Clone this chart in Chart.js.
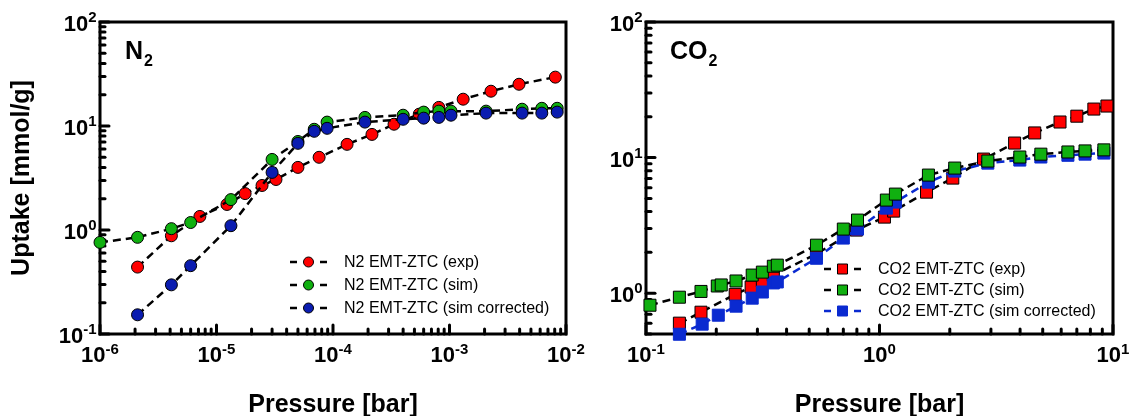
<!DOCTYPE html>
<html lang="en">
<head>
<meta charset="UTF-8">
<title>N2 / CO2 uptake EMT-ZTC</title>
<script src="https://cdn.jsdelivr.net/npm/chart.js"></script>
<style>
    body {
        margin: 0;
        background: #fff;
        font-family: "Liberation Sans", Arial, sans-serif;
    }
    .panel {
        position: absolute;
        top: 0;
        height: 416px;
    }
</style>
</head>
<body>
<div class="panel" style="left:0;width:600px"><canvas id="n2Chart" width="600" height="416"></canvas></div>
<div class="panel" style="left:567px;width:567px"><canvas id="co2Chart" width="567" height="416"></canvas></div>

<script>
// ---- N2 data (pressure in bar, uptake in mmol/g) ----
const n2ExpP = [2.1e-6, 4.1e-6, 7.2e-6, 1.23e-5, 1.76e-5, 2.46e-5, 3.24e-5, 5.0e-5, 7.6e-5, 1.32e-4, 2.16e-4, 3.34e-4, 5.5e-4, 8.1e-4, 1.31e-3, 2.27e-3, 3.95e-3, 8.1e-3];
const n2ExpQ = [0.44, 0.88, 1.35, 1.76, 2.24, 2.68, 3.06, 4.0, 5.0, 6.66, 8.3, 10.4, 13.0, 15.1, 18.1, 21.6, 25.2, 29.5];

const n2SimP = [1.0e-6, 2.1e-6, 4.1e-6, 6.0e-6, 1.33e-5, 3.0e-5, 5.0e-5, 6.9e-5, 8.9e-5, 1.88e-4, 4.0e-4, 6.0e-4, 8.1e-4, 1.03e-3, 2.06e-3, 4.2e-3, 6.2e-3, 8.4e-3];
const n2SimQ = [0.76, 0.85, 1.03, 1.18, 1.96, 4.77, 7.1, 9.3, 10.9, 12.1, 12.7, 13.6, 13.9, 13.9, 13.9, 14.5, 14.8, 14.8];

const n2CorP = [2.1e-6, 4.1e-6, 6.0e-6, 1.33e-5, 3.0e-5, 5.0e-5, 6.9e-5, 8.9e-5, 1.88e-4, 4.0e-4, 6.0e-4, 8.1e-4, 1.03e-3, 2.06e-3, 4.2e-3, 6.2e-3, 8.4e-3];
const n2CorQ = [0.153, 0.297, 0.454, 1.10, 3.58, 6.81, 8.89, 9.5, 10.9, 11.6, 11.9, 12.1, 12.7, 13.3, 13.3, 13.3, 13.6];

// ---- CO2 data ----
const co2ExpP = [0.139, 0.172, 0.241, 0.282, 0.315, 0.351, 0.537, 0.796, 1.05, 1.15, 1.59, 2.06, 2.79, 3.79, 4.62, 5.93, 7.00, 8.28, 9.42];
const co2ExpQ = [0.601, 0.724, 0.98, 1.11, 1.23, 1.36, 1.95, 2.92, 3.64, 4.03, 5.56, 7.06, 9.75, 12.8, 15.2, 18.3, 20.2, 22.8, 24.0];

const co2SimP = [0.104, 0.139, 0.172, 0.202, 0.210, 0.243, 0.285, 0.315, 0.351, 0.365, 0.537, 0.700, 0.805, 1.07, 1.17, 1.62, 2.10, 2.91, 3.99, 4.91, 6.41, 7.59, 9.14];
const co2SimQ = [0.815, 0.934, 1.03, 1.13, 1.15, 1.23, 1.36, 1.43, 1.58, 1.61, 2.26, 2.97, 3.46, 4.86, 5.38, 7.43, 8.37, 9.43, 10.1, 10.6, 11.0, 11.2, 11.4];

const co2CorP = [0.139, 0.174, 0.204, 0.243, 0.285, 0.315, 0.351, 0.365, 0.537, 0.700, 0.805, 1.07, 1.17, 1.62, 2.10, 2.91, 3.99, 4.91, 6.41, 7.59, 9.14];
const co2CorQ = [0.498, 0.591, 0.688, 0.802, 0.919, 1.02, 1.19, 1.21, 1.81, 2.55, 2.97, 4.24, 4.70, 6.59, 7.95, 9.10, 9.59, 10.1, 10.4, 10.6, 10.8];

const n2Labels = ['N2 EMT-ZTC (exp)', 'N2 EMT-ZTC (sim)', 'N2 EMT-ZTC (sim corrected)'];
const co2Labels = ['CO2 EMT-ZTC (exp)', 'CO2 EMT-ZTC (sim)', 'CO2 EMT-ZTC (sim corrected)'];

const FONT = '"Liberation Sans", Arial, sans-serif';
const RED = '#ff0000', GREEN = '#10b010', BLUE_N2 = '#0a1cb0', BLUE_CO2 = '#0a2ad0';

function pts(p, q) {
    return p.map((v, i) => ({ x: v, y: q[i] }));
}

function logTicks(min, max) {
    const out = [];
    for (let d = Math.floor(Math.log10(min)); d <= Math.ceil(Math.log10(max)); d++) {
        for (let m = 1; m <= 9; m++) {
            const v = m * Math.pow(10, d);
            if (v >= min * 0.999 && v <= max * 1.001) out.push({ v, d, major: m === 1 });
        }
    }
    return out;
}

function expText(d) {
    return d < 0 ? '-' + (-d) : String(d);
}

// frame, inward ticks, power-of-ten labels, titles, legend
const framePlugin = {
    id: 'frame',
    beforeDatasetsDraw(chart, args, o) {
        const ctx = chart.ctx, a = chart.chartArea;
        const xs = chart.scales.x, ys = chart.scales.y;
        ctx.save();
        ctx.strokeStyle = '#000';
        ctx.lineWidth = 3;
        ctx.lineCap = 'square';
        ctx.strokeRect(a.left, a.top, a.right - a.left, a.bottom - a.top);

        ctx.lineCap = 'round';
        ctx.lineWidth = 3;
        logTicks(xs.min, xs.max).forEach(t => {
            const px = xs.getPixelForValue(t.v);
            ctx.beginPath();
            ctx.moveTo(px, a.bottom);
            ctx.lineTo(px, a.bottom - (t.major ? 9 : 5));
            ctx.stroke();
        });
        logTicks(ys.min, ys.max).forEach(t => {
            const py = ys.getPixelForValue(t.v);
            ctx.beginPath();
            ctx.moveTo(a.left, py);
            ctx.lineTo(a.left + (t.major ? 9 : 5), py);
            ctx.stroke();
        });
        ctx.restore();
    },
    afterDatasetsDraw(chart, args, o) {
        const ctx = chart.ctx, a = chart.chartArea;
        const xs = chart.scales.x, ys = chart.scales.y;
        ctx.save();
        ctx.fillStyle = '#000';
        ctx.textBaseline = 'alphabetic';

        // x tick labels
        logTicks(xs.min, xs.max).filter(t => t.major).forEach(t => {
            const px = xs.getPixelForValue(t.v);
            const e = expText(t.d);
            ctx.font = 'bold 22px ' + FONT;
            const w1 = ctx.measureText('10').width;
            ctx.font = 'bold 15px ' + FONT;
            const w2 = ctx.measureText(e).width;
            const x0 = px - (w1 + w2) / 2;
            ctx.textAlign = 'left';
            ctx.font = 'bold 22px ' + FONT;
            ctx.fillText('10', x0, a.bottom + 28);
            ctx.font = 'bold 15px ' + FONT;
            ctx.fillText(e, x0 + w1, a.bottom + 20);
        });

        // y tick labels
        logTicks(ys.min, ys.max).filter(t => t.major).forEach(t => {
            const py = ys.getPixelForValue(t.v);
            const e = expText(t.d);
            const right = a.left - 3.5;
            ctx.textAlign = 'right';
            ctx.font = 'bold 15px ' + FONT;
            const w2 = ctx.measureText(e).width;
            ctx.fillText(e, right, py);
            ctx.font = 'bold 22px ' + FONT;
            ctx.fillText('10', right - w2, py + 9);
        });

        // axis titles
        ctx.font = 'bold 25px ' + FONT;
        ctx.textAlign = 'center';
        ctx.fillText(o.xTitle, (a.left + a.right) / 2, 412);
        if (o.yTitle) {
            ctx.save();
            ctx.translate(22, (a.top + a.bottom) / 2);
            ctx.rotate(-Math.PI / 2);
            ctx.textBaseline = 'middle';
            ctx.fillText(o.yTitle, 0, 0);
            ctx.restore();
        }

        // gas name with subscript
        ctx.textAlign = 'left';
        ctx.font = 'bold 25px ' + FONT;
        const gx = a.left + o.gas.dx;
        ctx.fillText(o.gas.base, gx, 59);
        const gw = ctx.measureText(o.gas.base).width;
        ctx.font = 'bold 16px ' + FONT;
        ctx.fillText(o.gas.sub, gx + gw + 1, 66);

        // legend
        const L = o.legend;
        chart.data.datasets.forEach((ds, i) => {
            const y = L.y[i];
            ctx.setLineDash([]);
            ctx.strokeStyle = ds.borderColor;
            ctx.lineWidth = 2.5;
            ctx.lineCap = 'butt';
            ctx.beginPath();
            ctx.moveTo(L.x, y); ctx.lineTo(L.x + 7, y);
            ctx.moveTo(L.x + 30, y); ctx.lineTo(L.x + 37, y);
            ctx.stroke();
            ctx.fillStyle = ds.pointBackgroundColor;
            ctx.strokeStyle = ds.pointBorderColor;
            ctx.lineWidth = 1;
            const cx = L.x + 18.5;
            ctx.beginPath();
            if (ds.pointStyle === 'rect') ctx.rect(cx - 5, y - 5, 10, 10);
            else ctx.arc(cx, y, 5, 0, Math.PI * 2);
            ctx.fill();
            ctx.stroke();
            ctx.fillStyle = '#000';
            ctx.font = '16px ' + FONT;
            ctx.textBaseline = 'middle';
            ctx.fillText(ds.label, L.textX, y + 1);
            ctx.textBaseline = 'alphabetic';
        });
        ctx.restore();
    }
};

function series(label, p, q, fill, lineColor, style, order) {
    return {
        label: label,
        data: pts(p, q),
        showLine: true,
        borderColor: lineColor,
        borderWidth: 2.5,
        borderDash: [8, 5],
        pointStyle: style,
        pointRadius: style === 'rect' ? 8.5 : 6,
        pointBackgroundColor: fill,
        pointBorderColor: style === 'rect' && fill === BLUE_CO2 ? BLUE_CO2 : '#000',
        pointBorderWidth: 1,
        order: order,
        clip: false
    };
}

function makeChart(id, datasets, xr, yr, pad, frameOpts) {
    return new Chart(document.getElementById(id), {
        type: 'scatter',
        data: { datasets: datasets },
        options: {
            responsive: false,
            animation: false,
            events: [],
            layout: { padding: pad },
            scales: {
                x: { type: 'logarithmic', min: xr[0], max: xr[1], display: false },
                y: { type: 'logarithmic', min: yr[0], max: yr[1], display: false }
            },
            plugins: {
                legend: { display: false },
                tooltip: { enabled: false },
                frame: frameOpts
            }
        },
        plugins: [framePlugin]
    });
}

makeChart('n2Chart', [
    series(n2Labels[0], n2ExpP, n2ExpQ, RED, '#000', 'circle', 2),
    series(n2Labels[1], n2SimP, n2SimQ, GREEN, '#000', 'circle', 1),
    series(n2Labels[2], n2CorP, n2CorQ, BLUE_N2, '#000', 'circle', 0)
], [1e-6, 1e-2], [0.1, 100], { left: 100, right: 34, top: 22, bottom: 82 }, {
    xTitle: 'Pressure [bar]',
    yTitle: 'Uptake [mmol/g]',
    gas: { base: 'N', sub: '2', dx: 25 },
    legend: { x: 290, textX: 344, y: [262, 285, 308] }
});

makeChart('co2Chart', [
    series(co2Labels[0], co2ExpP, co2ExpQ, RED, '#000', 'rect', 2),
    series(co2Labels[1], co2SimP, co2SimQ, GREEN, '#000', 'rect', 0),
    series(co2Labels[2], co2CorP, co2CorQ, BLUE_CO2, BLUE_CO2, 'rect', 1)
], [0.1, 10], [0.5, 100], { left: 79, right: 21, top: 22, bottom: 82 }, {
    xTitle: 'Pressure [bar]',
    yTitle: null,
    gas: { base: 'CO', sub: '2', dx: 24 },
    legend: { x: 824 - 567, textX: 878 - 567, y: [269, 290, 311] }
});
</script>
</body>
</html>
